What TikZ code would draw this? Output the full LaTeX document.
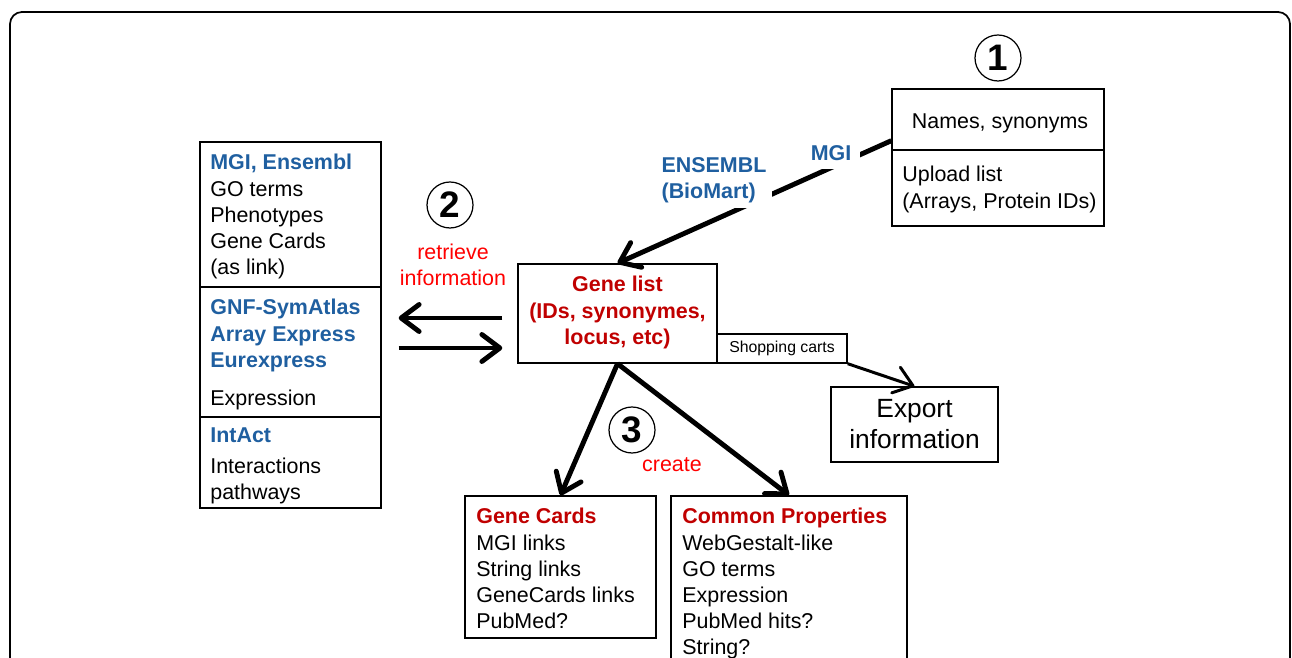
\documentclass[tikz,border=0pt]{standalone}
\usepackage{fontspec}
\setmainfont{Liberation Sans}
\usetikzlibrary{arrows.meta}
\definecolor{blue1}{RGB}{31, 95, 160}
\definecolor{red1}{RGB}{192, 0, 0}
\definecolor{red2}{RGB}{255, 0, 0}

\begin{document}
\begin{tikzpicture}[x=0.02cm, y=-0.02cm,
  box/.style={draw, line width=0.8pt, inner sep=0pt},
  txt/.style={inner sep=0pt, align=left, font=\fontsize{12.2}{14.9}\selectfont},
  num/.style={circle, draw, line width=0.7pt, minimum size=0.92cm, inner sep=0pt,
    font=\fontsize{21}{21}\selectfont\bfseries},
  bigarrow/.style={line width=2.8pt, -{Straight Barb[length=3.6mm,width=5.4mm,round]}}]
  \useasboundingbox (0,0) rectangle (1292,658);
  \clip (0,0) rectangle (1292,658);
  \draw[line width=1pt, rounded corners=0.24cm] (10,12) rectangle (1290,720);

  % input (1)
  \node[num] (c1) at (998,58) {1};
  \node[box, minimum width=4.24cm, minimum height=1.22cm] (names) at (998,119.5) {};
  \node[box, minimum width=4.24cm, minimum height=1.52cm] (upload) at (998,188) {};
  \node[txt] (namestxt) at (1000,123) {Names, synonyms};
  \node[txt, anchor=north west] (uploadtxt) at (902,166) {Upload list\\(Arrays, Protein IDs)};

  % retrieve (2)
  \node[box, minimum width=3.62cm, minimum height=2.9cm] (info1) at (290.5,214.5) {};
  \node[box, minimum width=3.62cm, minimum height=2.6cm] (info2) at (290.5,352) {};
  \node[box, minimum width=3.62cm, minimum height=1.82cm] (info3) at (290.5,462.5) {};
  \node[txt, anchor=north west] (info1txt) at (210,154)
{\textcolor{blue1}{\textbf{MGI, Ensembl}}\\GO terms\\Phenotypes\\Gene Cards\\(as link)};
  \node[txt, anchor=north west] (info2txt) at (210,299)
{\textcolor{blue1}{\textbf{GNF-SymAtlas}}\\\textcolor{blue1}{\textbf{Array Express}}\\\textcolor{blue1}{\textbf{Eurexpress}}\\[7pt]Expression};
  \node[txt, anchor=north west] (info3txt) at (210,427)
{\textcolor{blue1}{\textbf{IntAct}}\\[3pt]Interactions\\pathways};
  \node[num] (c2) at (450,205) {2};
  \node[txt, align=center, text=red2] (retrieve) at (453,265) {retrieve\\information};

  % gene list
  \node[box, minimum width=3.98cm, minimum height=1.98cm] (genelist) at (617.5,313.5) {};
  \node[txt, align=center, anchor=north, text=red1] (genetxt) at (617.5,276)
{\textbf{Gene list}\\\textbf{(IDs, synonymes,}\\\textbf{locus, etc)}};
  \node[box, minimum width=2.6cm, minimum height=0.58cm, font=\fontsize{9}{10}\selectfont] (shop) at (782,348.5) {Shopping carts};
  \node[box, minimum width=3.34cm, minimum height=1.5cm, align=center,
    font=\fontsize{15}{17.6}\selectfont] (export) at (914.5,424.5) {Export\\information};

  % create (3)
  \node[num] (c3) at (632,430) {3};
  \node[txt, text=red2] (create) at (672,465) {create};
  \node[box, minimum width=3.82cm, minimum height=2.84cm] (genecards) at (560.5,567) {};
  \node[box, minimum width=4.72cm, minimum height=4.48cm] (common) at (789,608) {};
  \node[txt, anchor=north west] (cardstxt) at (476,508)
{\textcolor{red1}{\textbf{Gene Cards}}\\MGI links\\String links\\GeneCards links\\PubMed?};
  \node[txt, anchor=north west] (commontxt) at (682,508)
{\textcolor{red1}{\textbf{Common Properties}}\\WebGestalt-like\\GO terms\\Expression\\PubMed hits?\\String?};

  % connectors
  \draw[bigarrow] ([yshift=0.2cm]names.south west) -- (genelist.north);
  \node[txt, fill=white, inner sep=5pt, text=blue1] (mgi) at (831,153) {\textbf{MGI}};
  \node[txt, fill=white, inner sep=3pt, anchor=west, text=blue1] (ensembl) at (656,180)
{\textbf{ENSEMBL}\\\textbf{(BioMart)}};
  \draw[bigarrow, shorten <=0.3cm, shorten >=0.34cm] (genelist.west |- 0,318) -- (info2.east |- 0,318);
  \draw[bigarrow, shorten <=0.34cm, shorten >=0.3cm] (info2.east |- 0,348) -- (genelist.west |- 0,348);
  \foreach \from/\to in {genelist/genecards, genelist/common}
    \draw[bigarrow] (\from.south) -- (\to.north);
  \draw[bigarrow, line width=1.7pt] (shop.south east) -- (export.north);
\end{tikzpicture}
\end{document}
